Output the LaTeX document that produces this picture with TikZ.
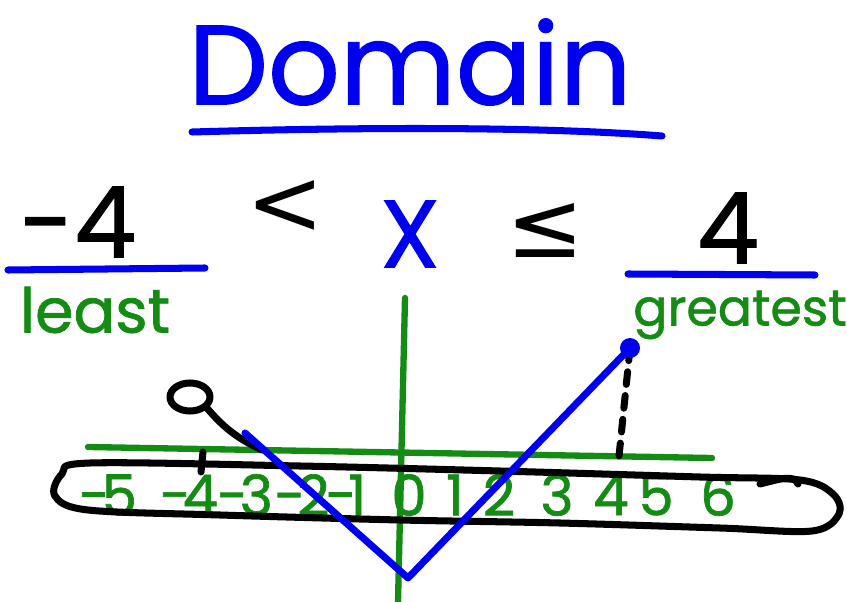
\documentclass[tikz,border=0pt]{standalone}
\usepackage{fontspec}
\setmainfont{Poppins}[FakeBold=1.2]
\newfontfamily\relfont{DejaVu Sans}
\definecolor{domainBlue}{RGB}{0,0,240}
\definecolor{domainGreen}{RGB}{20,140,20}
\definecolor{domainInk}{RGB}{0,0,0}
\newcommand\mns{-\kern-6pt}

\begin{document}
\begin{tikzpicture}[x=0.025cm,y=-0.025cm,
      headline/.style={font=\fontsize{80}{82}\selectfont, text=domainBlue},
      boundNum/.style={font=\fontsize{70}{72}\selectfont, text=domainInk,
        inner sep=1pt},
      relSign/.style={font=\relfont\fontsize{66}{68}\selectfont, text=domainInk},
      varSign/.style={font=\fontsize{68}{70}\selectfont, text=domainBlue},
      tagText/.style={font=\fontsize{44}{46}\selectfont, text=domainGreen,
        inner sep=1pt},
      numText/.style={font=\fontsize{40}{42}\selectfont, text=domainGreen,
        inner sep=0pt},
      pen/.style={line width=5pt, line cap=round, line join=round},
      bluePen/.style={pen, draw=domainBlue},
      greenPen/.style={pen, draw=domainGreen, line width=4.5pt},
      inkPen/.style={pen, draw=domainInk}]
      \useasboundingbox (0,0) rectangle (847,602);

      \fill[white] (0,0) rectangle (847,602);

      \node[headline] (headline) at (410,62) {Domain};
      \draw[bluePen] (192,132) .. controls (400,126) and (560,128) .. (662,136);

      \node[boundNum] (least) at (78,222) {-4};
      \node[relSign] (lt) at (285,208) {<};
      \node[varSign] (var) at (410,234) {X};
      \node[relSign] (le) at (545,230) {≤};
      \node[boundNum] (greatest) at (728,228) {4};
      \draw[bluePen] (8,270) -- (205,268);
      \draw[bluePen] (628,274) -- (815,275);

      \node[tagText] (leastTag) at (95,310) {least};
      \node[tagText, font=\fontsize{36}{38}\selectfont] (greatestTag)
        at (740,315) {greatest};

      \draw[greenPen] (405,298) -- (398,602);
      \draw[greenPen] (88,447) -- (712,458);

      \foreach \lbl/\px in {{\mns5}/108,{\mns4}/189,{\mns3}/245,{\mns2}/302,
          {\mns1}/346,0/409,1/455,2/499,3/557,4/611,5/656,6/718}{
        \node[numText] (n\px) at (\px,495) {\lbl};}

      \draw[inkPen] plot[smooth cycle, tension=.55] coordinates {
          (90,463) (300,466) (500,471) (700,477) (800,480) (833,494)
          (839,514) (812,531) (720,528) (560,523) (400,520) (220,515)
          (88,510) (55,496) (62,474)};
      \draw[inkPen] (760,484) .. controls (780,479) and (794,474) .. (798,484);

      \coordinate (openEnd) at (190,397);
      \coordinate (openTail) at (262,450);
      \coordinate (vStart) at (245,433);
      \coordinate (vBottom) at (408,578);
      \coordinate (closedEnd) at (630,348);
      \coordinate (fourMark) at (618,466);

      \draw[inkPen] (openEnd) ellipse [x radius=20, y radius=14];
      \draw[inkPen] ([shift={(16,10)}]openEnd) to[bend right=12] (openTail);
      \draw[inkPen] (203,452) -- (201,472);

      \draw[inkPen, dash pattern=on 9pt off 8pt] (closedEnd) -- (fourMark);
      \draw[bluePen] (vStart) -- (vBottom) -- (closedEnd);
      \fill[domainBlue] (closedEnd) circle [radius=10];
    \end{tikzpicture}
\end{document}
